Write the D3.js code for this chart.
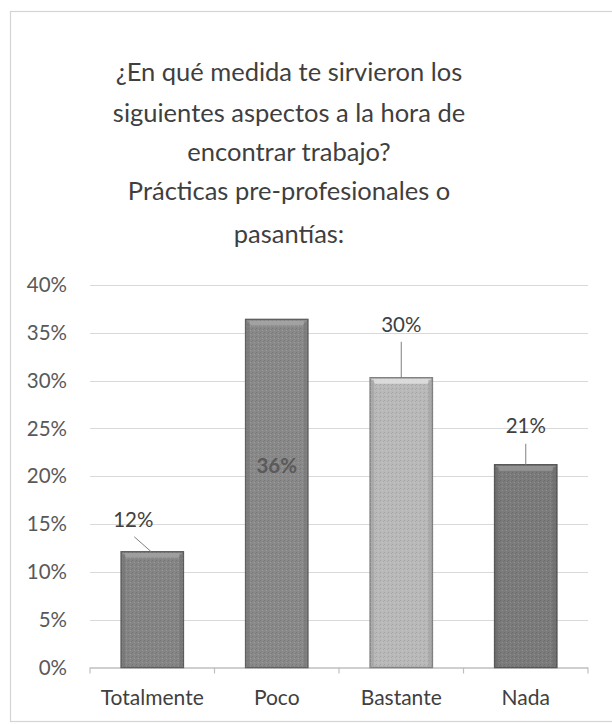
<!DOCTYPE html>
<html>
<head>
<meta charset="utf-8">
<script src="https://cdn.jsdelivr.net/npm/d3@7"></script>
<style>
html,body{margin:0;padding:0;background:#fff;}
svg{display:block;}
</style>
</head>
<body>
<svg id="chart" width="612" height="724"></svg>
<script>
const categories = ["Totalmente", "Poco", "Bastante", "Nada"];
const values = [0.121, 0.364, 0.303, 0.212];
const labels = ["12%", "36%", "30%", "21%"];
const barColors = ["#858585", "#898989", "#b9b9b9", "#7b7b7b"];
const yTicks = [0, 0.05, 0.10, 0.15, 0.20, 0.25, 0.30, 0.35, 0.40];
const titleLines = ["¿En qué medida te sirvieron los", "siguientes aspectos a la hora de", "encontrar trabajo?", "Prácticas pre-profesionales o", "pasantías:"];

const svg = d3.select("#chart");
const font = "Lato, 'Open Sans', sans-serif";

// frame
svg.append("rect").attr("x", 10.5).attr("y", 11.5).attr("width", 640).attr("height", 710)
  .attr("fill", "none").attr("stroke", "#d4d4d4").attr("stroke-width", 1.2);

// title
const titleY = [81, 122, 161, 200, 243];
svg.append("g").selectAll("text").data(titleLines).join("text")
  .attr("x", 289).attr("y", (d, i) => titleY[i])
  .attr("text-anchor", "middle")
  .attr("font-family", font).attr("font-size", 25.5)
  .attr("fill", "#3f3f3f").text(d => d);

const x = d3.scaleBand().domain(categories).range([90, 588]).paddingInner(0.5).paddingOuter(0.25);
const y = d3.scaleLinear().domain([0, 0.40]).range([667.5, 285]);

// gridlines
svg.append("g").selectAll("line").data(yTicks.filter(d => d > 0)).join("line")
  .attr("x1", 90).attr("x2", 588)
  .attr("y1", d => Math.round(y(d)) + 0.5).attr("y2", d => Math.round(y(d)) + 0.5)
  .attr("stroke", "#d9d9d9").attr("stroke-width", 1.2);

// y axis labels
const yAxis = d3.axisLeft(y).tickValues(yTicks).tickFormat(d3.format(".0%")).tickSize(0).tickPadding(23);
const gy = svg.append("g").attr("transform", "translate(90,0)").call(yAxis);
gy.select(".domain").remove();
gy.selectAll("text").attr("font-family", font).attr("font-size", 20.5).attr("fill", "#595959");

// x axis
const gx = svg.append("g").attr("transform", `translate(0,${y(0)})`);
gx.append("line").attr("x1", 90).attr("x2", 588).attr("y1", 0.5).attr("y2", 0.5)
  .attr("stroke", "#bfbfbf").attr("stroke-width", 1.3);
const bounds = d3.range(categories.length + 1).map(i => 90 + i * (588 - 90) / categories.length);
gx.selectAll("line.tk").data(bounds).join("line").attr("class", "tk")
  .attr("x1", d => d).attr("x2", d => d).attr("y1", 0).attr("y2", 6)
  .attr("stroke", "#bfbfbf").attr("stroke-width", 1.2);
gx.selectAll("text").data(categories).join("text")
  .attr("x", d => x(d) + x.bandwidth() / 2).attr("y", 37)
  .attr("text-anchor", "middle").attr("font-family", font).attr("font-size", 21)
  .attr("fill", "#404040").text(d => d);

// texture pattern
const defs = svg.append("defs");
const pat = defs.append("pattern").attr("id", "noise").attr("width", 4).attr("height", 4).attr("patternUnits", "userSpaceOnUse");
pat.append("rect").attr("x", 0).attr("y", 0).attr("width", 1).attr("height", 1).attr("fill", "rgba(0,0,0,0.12)");
pat.append("rect").attr("x", 2).attr("y", 2).attr("width", 1).attr("height", 1).attr("fill", "rgba(255,255,255,0.15)");
pat.append("rect").attr("x", 3).attr("y", 1).attr("width", 1).attr("height", 1).attr("fill", "rgba(0,0,0,0.08)");

// bars
const bars = svg.append("g");
categories.forEach((c, i) => {
  const bx = x(c), bw = x.bandwidth(), by = y(values[i]), bh = y(0) - y(values[i]);
  const col = d3.color(barColors[i]);
  bars.append("rect").attr("x", bx).attr("y", by).attr("width", bw).attr("height", bh)
    .attr("fill", barColors[i]).attr("stroke", col.darker(1)).attr("stroke-width", 1.5);
  bars.append("rect").attr("x", bx).attr("y", by).attr("width", bw).attr("height", bh)
    .attr("fill", "url(#noise)");
  bars.append("polygon")
    .attr("points", [[bx + 1, by + 1], [bx + bw - 1, by + 1], [bx + bw - 5, by + 6], [bx + 5, by + 6]].map(p => p.join(",")).join(" "))
    .attr("fill", col.brighter(0.55)).attr("opacity", 0.85);
  bars.append("rect").attr("x", bx + 1).attr("y", by + 2).attr("width", 3).attr("height", bh - 3)
    .attr("fill", col.darker(0.4)).attr("opacity", 0.6);
  bars.append("rect").attr("x", bx + bw - 4).attr("y", by + 2).attr("width", 3).attr("height", bh - 3)
    .attr("fill", col.darker(0.4)).attr("opacity", 0.6);
});

// data labels
const lab = svg.append("g").attr("font-family", font).attr("font-size", 20.5).attr("fill", "#404040").attr("text-anchor", "middle");
{
  const c = categories[0], cx = x(c) + x.bandwidth() / 2, top = y(values[0]);
  lab.append("text").attr("x", cx - 19).attr("y", top - 25).text(labels[0]);
  lab.append("line").attr("x1", cx - 18).attr("y1", top - 15).attr("x2", cx - 1).attr("y2", top)
    .attr("stroke", "#7f7f7f").attr("stroke-width", 1);
}
{
  const c = categories[1], cx = x(c) + x.bandwidth() / 2;
  lab.append("text").attr("x", cx).attr("y", y(0.20) - 3).attr("font-weight", "bold").attr("fill", "#5a5a5a").text(labels[1]);
}
{
  const c = categories[2], cx = x(c) + x.bandwidth() / 2, top = y(values[2]);
  lab.append("text").attr("x", cx).attr("y", top - 46).text(labels[2]);
  lab.append("line").attr("x1", cx).attr("y1", top - 36).attr("x2", cx).attr("y2", top)
    .attr("stroke", "#7f7f7f").attr("stroke-width", 1);
}
{
  const c = categories[3], cx = x(c) + x.bandwidth() / 2, top = y(values[3]);
  lab.append("text").attr("x", cx).attr("y", top - 32).text(labels[3]);
  lab.append("line").attr("x1", cx).attr("y1", top - 21).attr("x2", cx).attr("y2", top)
    .attr("stroke", "#7f7f7f").attr("stroke-width", 1);
}
</script>
</body>
</html>
